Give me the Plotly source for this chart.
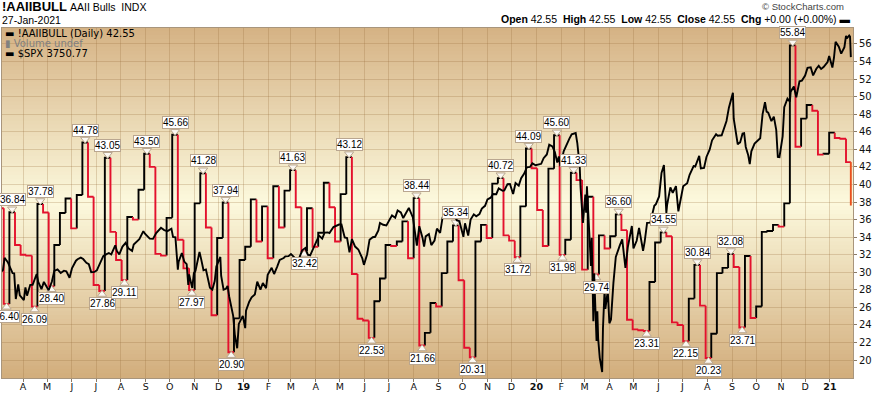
import plotly.graph_objects as go
import pandas as pd
from datetime import timedelta

# ---------------- data ----------------
AAII_FIRST_DATE = "2018-03-01"          # weekly (Thursday) readings
aaii_bulls = [
    # 2018
    37.30, 26.40, 36.84, 33.10, 32.00, 31.90, 26.09, 37.78, 36.80, 28.40,
    33.10, 36.75, 38.40, 35.00, 38.80, 44.78, 38.60, 28.55, 27.86, 43.05,
    34.60, 31.40, 29.11, 36.30, 36.00, 39.40, 43.50, 42.00, 32.10, 31.90,
    36.20, 45.66, 33.70, 30.45, 27.97, 37.85, 41.28, 35.10, 25.10, 33.90,
    37.94, 20.90, 24.75, 31.40,
    # 2019
    32.90, 38.30, 33.50, 37.50, 31.60, 39.80, 35.10, 39.30, 41.63, 37.40,
    32.42, 37.30, 32.90, 34.50, 40.20, 37.40, 33.50, 38.90, 43.12, 29.80,
    24.70, 24.50, 22.53, 26.70, 29.30, 33.10, 33.00, 33.50, 35.80, 31.60,
    38.44, 21.66, 23.10, 26.50, 26.10, 29.90, 33.50, 35.34, 29.10, 21.40,
    20.31, 33.50, 35.40, 33.90, 40.10, 40.72, 34.20, 33.60, 31.72, 37.50,
    44.09, 41.84,
    # 2020
    37.10, 33.00, 41.80, 45.60, 31.98, 33.70, 41.33, 40.50, 30.30, 38.60,
    29.74, 34.20, 32.70, 34.10, 36.60, 34.80, 24.60, 23.50, 23.40, 23.31,
    28.90, 33.40, 34.55, 34.10, 24.30, 24.00, 22.15, 27.00, 30.84, 26.20,
    20.23, 23.00, 29.90, 30.50, 32.08, 30.60, 23.71, 31.85, 24.80, 26.10,
    34.60, 34.70, 35.40, 35.20, 37.85, 55.84, 44.30, 47.50, 49.05, 48.40,
    43.40, 43.50, 45.90,
    # 2021
    45.30, 45.20, 42.55,
]
aaii_final_date = "2021-01-27"
aaii_final_value = 37.60

peak_labels = [36.84, 37.78, 44.78, 43.05, 43.50, 45.66, 41.28, 37.94, 41.63,
               43.12, 38.44, 35.34, 40.72, 44.09, 45.60, 41.33, 36.60, 34.55,
               30.84, 32.08, 55.84]
trough_labels = [26.40, 26.09, 28.40, 27.86, 29.11, 27.97, 20.90, 32.42, 22.53,
                 21.66, 20.31, 31.72, 31.98, 29.74, 23.31, 22.15, 20.23, 23.71]

spx_dates = [
    "2018-03-01", "2018-03-05", "2018-03-07", "2018-03-09", "2018-03-13", "2018-03-15", "2018-03-19", "2018-03-21",
    "2018-03-23", "2018-03-26", "2018-03-28", "2018-04-02", "2018-04-04", "2018-04-06", "2018-04-10", "2018-04-13",
    "2018-04-18", "2018-04-20", "2018-04-24", "2018-04-27", "2018-05-03", "2018-05-07", "2018-05-10", "2018-05-14",
    "2018-05-18", "2018-05-22", "2018-05-25", "2018-05-29", "2018-06-01", "2018-06-06", "2018-06-08", "2018-06-12",
    "2018-06-15", "2018-06-19", "2018-06-22", "2018-06-25", "2018-06-29", "2018-07-02", "2018-07-06", "2018-07-10",
    "2018-07-13", "2018-07-17", "2018-07-20", "2018-07-25", "2018-07-27", "2018-07-30", "2018-08-03", "2018-08-07",
    "2018-08-10", "2018-08-15", "2018-08-17", "2018-08-21", "2018-08-24", "2018-08-29", "2018-08-31", "2018-09-06",
    "2018-09-10", "2018-09-14", "2018-09-20", "2018-09-24", "2018-09-28", "2018-10-03", "2018-10-05", "2018-10-08",
    "2018-10-10", "2018-10-11", "2018-10-12", "2018-10-16", "2018-10-19", "2018-10-22", "2018-10-24", "2018-10-25",
    "2018-10-29", "2018-10-31", "2018-11-02", "2018-11-07", "2018-11-09", "2018-11-12", "2018-11-15", "2018-11-20",
    "2018-11-23", "2018-11-26", "2018-11-28", "2018-11-30", "2018-12-03", "2018-12-04", "2018-12-07", "2018-12-10",
    "2018-12-12", "2018-12-14", "2018-12-17", "2018-12-19", "2018-12-21", "2018-12-24", "2018-12-26", "2018-12-28",
    "2018-12-31",
    "2019-01-03", "2019-01-04", "2019-01-08", "2019-01-11", "2019-01-15", "2019-01-18", "2019-01-22", "2019-01-25",
    "2019-01-29", "2019-01-31", "2019-02-05", "2019-02-08", "2019-02-12", "2019-02-15", "2019-02-20", "2019-02-22",
    "2019-02-26", "2019-03-01", "2019-03-05", "2019-03-08", "2019-03-12", "2019-03-15", "2019-03-19", "2019-03-22",
    "2019-03-25", "2019-03-29", "2019-04-02", "2019-04-05", "2019-04-09", "2019-04-12", "2019-04-16", "2019-04-18",
    "2019-04-23", "2019-04-26", "2019-04-30", "2019-05-03", "2019-05-07", "2019-05-10", "2019-05-13", "2019-05-16",
    "2019-05-20", "2019-05-24", "2019-05-29", "2019-05-31", "2019-06-04", "2019-06-07", "2019-06-11", "2019-06-14",
    "2019-06-18", "2019-06-20", "2019-06-24", "2019-06-28", "2019-07-02", "2019-07-05", "2019-07-09", "2019-07-12",
    "2019-07-16", "2019-07-19", "2019-07-23", "2019-07-26", "2019-07-31", "2019-08-02", "2019-08-05", "2019-08-08",
    "2019-08-12", "2019-08-14", "2019-08-16", "2019-08-20", "2019-08-23", "2019-08-27", "2019-08-30", "2019-09-03",
    "2019-09-06", "2019-09-10", "2019-09-13", "2019-09-17", "2019-09-20", "2019-09-24", "2019-09-27", "2019-10-02",
    "2019-10-04", "2019-10-08", "2019-10-11", "2019-10-15", "2019-10-18", "2019-10-22", "2019-10-25", "2019-10-29",
    "2019-11-01", "2019-11-05", "2019-11-08", "2019-11-12", "2019-11-15", "2019-11-20", "2019-11-22", "2019-11-26",
    "2019-11-29", "2019-12-03", "2019-12-06", "2019-12-10", "2019-12-13", "2019-12-17", "2019-12-20", "2019-12-24",
    "2019-12-27", "2019-12-31",
    "2020-01-03", "2020-01-07", "2020-01-10", "2020-01-14", "2020-01-17", "2020-01-21", "2020-01-24", "2020-01-27",
    "2020-01-29", "2020-01-31", "2020-02-04", "2020-02-07", "2020-02-11", "2020-02-14", "2020-02-19", "2020-02-21",
    "2020-02-24", "2020-02-25", "2020-02-27", "2020-02-28", "2020-03-02", "2020-03-03", "2020-03-04", "2020-03-06",
    "2020-03-09", "2020-03-10", "2020-03-11", "2020-03-12", "2020-03-13", "2020-03-16", "2020-03-17", "2020-03-18",
    "2020-03-20", "2020-03-23", "2020-03-24", "2020-03-26", "2020-03-27", "2020-03-30", "2020-04-01", "2020-04-03",
    "2020-04-06", "2020-04-09", "2020-04-14", "2020-04-17", "2020-04-21", "2020-04-24", "2020-04-29", "2020-05-01",
    "2020-05-05", "2020-05-08", "2020-05-13", "2020-05-15", "2020-05-18", "2020-05-22", "2020-05-27", "2020-05-29",
    "2020-06-02", "2020-06-05", "2020-06-08", "2020-06-11", "2020-06-12", "2020-06-16", "2020-06-19", "2020-06-23",
    "2020-06-26", "2020-06-30", "2020-07-02", "2020-07-07", "2020-07-10", "2020-07-15", "2020-07-17", "2020-07-22",
    "2020-07-24", "2020-07-28", "2020-07-31", "2020-08-04", "2020-08-07", "2020-08-12", "2020-08-14", "2020-08-19",
    "2020-08-21", "2020-08-25", "2020-08-28", "2020-09-02", "2020-09-03", "2020-09-04", "2020-09-08", "2020-09-10",
    "2020-09-11", "2020-09-14", "2020-09-16", "2020-09-18", "2020-09-21", "2020-09-23", "2020-09-25", "2020-09-29",
    "2020-10-02", "2020-10-06", "2020-10-09", "2020-10-12", "2020-10-14", "2020-10-16", "2020-10-20", "2020-10-23",
    "2020-10-26", "2020-10-28", "2020-10-30", "2020-11-03", "2020-11-05", "2020-11-09", "2020-11-12", "2020-11-13",
    "2020-11-17", "2020-11-19", "2020-11-20", "2020-11-24", "2020-11-27", "2020-12-01", "2020-12-04", "2020-12-08",
    "2020-12-11", "2020-12-15", "2020-12-18", "2020-12-21", "2020-12-24", "2020-12-29", "2020-12-31",
    "2021-01-04", "2021-01-06", "2021-01-08", "2021-01-12", "2021-01-15", "2021-01-19", "2021-01-21", "2021-01-22",
    "2021-01-25", "2021-01-26", "2021-01-27",
]
spx_close = [
    2678, 2720, 2727, 2786, 2765, 2748, 2712, 2711,
    2588, 2658, 2605, 2582, 2644, 2604, 2656, 2656,
    2708, 2670, 2635, 2670, 2630, 2672, 2723, 2730,
    2713, 2724, 2721, 2690, 2735, 2772, 2779, 2787,
    2780, 2762, 2755, 2717, 2718, 2726, 2760, 2794,
    2801, 2809, 2802, 2846, 2819, 2802, 2840, 2858,
    2833, 2819, 2850, 2862, 2875, 2914, 2902, 2878,
    2877, 2905, 2930, 2919, 2914, 2926, 2886, 2884,
    2786, 2729, 2767, 2809, 2768, 2756, 2656, 2706,
    2641, 2712, 2723, 2814, 2781, 2726, 2730, 2642,
    2633, 2674, 2744, 2760, 2790, 2700, 2633, 2637,
    2651, 2600, 2546, 2507, 2417, 2351, 2468, 2486,
    2507,
    2448, 2532, 2575, 2596, 2610, 2671, 2633, 2665,
    2640, 2704, 2738, 2708, 2745, 2776, 2785, 2793,
    2794, 2804, 2789, 2743, 2792, 2822, 2833, 2801,
    2798, 2834, 2867, 2893, 2878, 2907, 2908, 2905,
    2934, 2940, 2946, 2946, 2884, 2881, 2812, 2876,
    2840, 2826, 2783, 2752, 2803, 2873, 2885, 2887,
    2918, 2954, 2945, 2942, 2973, 2990, 2979, 3014,
    3004, 2977, 3005, 3026, 2980, 2932, 2844, 2938,
    2883, 2840, 2889, 2900, 2847, 2869, 2926, 2906,
    2979, 2979, 3007, 3005, 2992, 2966, 2962, 2887,
    2952, 2893, 2970, 2995, 2986, 2996, 3023, 3036,
    3067, 3075, 3093, 3092, 3120, 3108, 3110, 3140,
    3141, 3093, 3146, 3133, 3169, 3192, 3221, 3223,
    3240, 3231,
    3235, 3238, 3265, 3283, 3330, 3321, 3295, 3244,
    3273, 3226, 3298, 3328, 3358, 3380, 3386, 3338,
    3226, 3128, 2979, 2954, 3090, 3003, 3130, 2972,
    2747, 2882, 2741, 2481, 2711, 2386, 2529, 2398,
    2305, 2237, 2447, 2630, 2541, 2627, 2471, 2489,
    2664, 2790, 2846, 2875, 2737, 2837, 2939, 2831,
    2868, 2930, 2820, 2864, 2954, 2955, 3036, 3044,
    3081, 3194, 3232, 3002, 3041, 3125, 3098, 3131,
    3009, 3100, 3130, 3145, 3185, 3227, 3225, 3276,
    3216, 3218, 3271, 3306, 3351, 3380, 3373, 3375,
    3397, 3444, 3508, 3580, 3455, 3427, 3332, 3339,
    3341, 3383, 3385, 3319, 3281, 3237, 3298, 3335,
    3348, 3361, 3477, 3534, 3489, 3484, 3443, 3465,
    3401, 3271, 3270, 3370, 3510, 3551, 3537, 3585,
    3610, 3582, 3558, 3635, 3638, 3662, 3699, 3702,
    3663, 3695, 3709, 3694, 3703, 3727, 3756,
    3701, 3748, 3825, 3801, 3768, 3799, 3853, 3841,
    3855, 3850, 3751,
]

y_ticks = list(range(20, 57, 2))
month_starts = pd.date_range("2018-04-01", "2021-01-01", freq="MS")
month_letters = ["J", "F", "M", "A", "M", "J", "J", "A", "S", "O", "N", "D"]

# ---------------- layout constants ----------------
W, H = 874, 393
ML, MR, MT, MB = 2, 21, 28, 15
PW, PH = W - ML - MR, H - MT - MB
X_RANGE = ["2018-03-05 19:00", "2021-01-29 17:00"]
Y_RANGE = [17.96, 57.82]
SPX_RANGE = [2208, 3891]
RED = "#e3112d"
LAST = "#e8501e"
GRID = "rgba(150,108,58,0.26)"
FRAME = "#a8957c"
BOX_BORDER = "#b9a690"
PX_PER_UNIT = PH / (Y_RANGE[1] - Y_RANGE[0])


def px(xp):
    return (xp - ML) / PW


def py(yp):
    return (H - MB - yp) / PH


# ---------------- AAII step segments ----------------
dates = list(pd.date_range(AAII_FIRST_DATE, periods=len(aaii_bulls), freq="7D"))
dates.append(pd.Timestamp(aaii_final_date))
vals = list(aaii_bulls) + [aaii_final_value]
n = len(vals)

seg = {"red": ([], []), "black": ([], []), "last": ([], [])}
seg["red"][0].extend([dates[0], dates[1], None])
seg["red"][1].extend([vals[0], vals[0], None])
for i in range(1, n):
    if i == n - 1:
        key = "last"
        xs = [dates[i], dates[i], None]
        ys = [vals[i - 1], vals[i], None]
    else:
        key = "red" if vals[i] < vals[i - 1] else "black"
        xs = [dates[i], dates[i], dates[i + 1], None]
        ys = [vals[i - 1], vals[i], vals[i], None]
    seg[key][0].extend(xs)
    seg[key][1].extend(ys)

fig = go.Figure()

# background gradient (tan -> cream -> tan)
top, mid, bot = (213, 178, 132), (252, 249, 221), (210, 173, 124)
NB = 90
for k in range(NB):
    f = (k + 0.5) / NB  # 0 = top
    if f < 0.5:
        t = f / 0.5
        c = [round(top[j] + (mid[j] - top[j]) * t) for j in range(3)]
    else:
        t = (f - 0.5) / 0.5
        c = [round(mid[j] + (bot[j] - mid[j]) * t) for j in range(3)]
    fig.add_shape(type="rect", xref="paper", yref="paper", x0=0, x1=1,
                  y0=1 - (k + 1) / NB, y1=1 - k / NB + 0.002,
                  fillcolor=f"rgb({c[0]},{c[1]},{c[2]})", line_width=0, layer="below")

for key, color in (("black", "#000000"), ("red", RED), ("last", LAST)):
    fig.add_trace(go.Scatter(x=seg[key][0], y=seg[key][1], mode="lines",
                             line=dict(color=color, width=1.9), hoverinfo="skip"))

# label pointers (triangles) and label boxes
off = 3.2 / PX_PER_UNIT
tri_x, tri_y, tri_s = [], [], []
annotations = []
lab_font = dict(family="Liberation Sans", size=10, color="#000")
for v in peak_labels:
    i = vals.index(v)
    xc = dates[i] + timedelta(days=3.5)
    tri_x.append(xc); tri_y.append(v + off); tri_s.append("triangle-down")
    annotations.append(dict(x=xc, y=v, xref="x", yref="y", text=f"{v:.2f}",
                            showarrow=False, yanchor="bottom", yshift=6,
                            bgcolor="#ffffff", bordercolor=BOX_BORDER, borderwidth=1, borderpad=0,
                            font=lab_font))
for v in trough_labels:
    i = vals.index(v)
    xc = dates[i] + timedelta(days=3.5)
    tri_x.append(xc); tri_y.append(v - off); tri_s.append("triangle-up")
    annotations.append(dict(x=xc, y=v, xref="x", yref="y", text=f"{v:.2f}",
                            showarrow=False, yanchor="top", yshift=-6,
                            bgcolor="#ffffff", bordercolor=BOX_BORDER, borderwidth=1, borderpad=0,
                            font=lab_font))
fig.add_trace(go.Scatter(x=tri_x, y=tri_y, mode="markers", hoverinfo="skip",
                         marker=dict(symbol=tri_s, size=8, color="#fbf8f2",
                                     line=dict(color=BOX_BORDER, width=1))))

# SPX overlay
fig.add_trace(go.Scatter(x=pd.to_datetime(spx_dates), y=spx_close, yaxis="y2", mode="lines",
                         line=dict(color="#000000", width=1.9), hoverinfo="skip"))

# ---------------- text ----------------
hdr = "Liberation Sans"
leg_font = dict(family="DejaVu Sans", size=10, color="#000")
annotations += [
    dict(x=px(0), y=py(7), xref="paper", yref="paper", xanchor="left", yanchor="middle",
         text="<b>!AAIIBULL</b>", showarrow=False, font=dict(family=hdr, size=13, color="#000")),
    dict(x=px(68), y=py(7), xref="paper", yref="paper", xanchor="left", yanchor="middle",
         text="AAII Bulls  INDX", showarrow=False, font=dict(family=hdr, size=10.5, color="#000")),
    dict(x=px(0), y=py(20), xref="paper", yref="paper", xanchor="left", yanchor="middle",
         text="27-Jan-2021", showarrow=False, font=dict(family=hdr, size=10.5, color="#000")),
    dict(x=px(846), y=py(6.5), xref="paper", yref="paper", xanchor="right", yanchor="middle",
         text="© StockCharts.com", showarrow=False, font=dict(family=hdr, size=9.5, color="#444")),
    dict(x=px(853), y=py(18.5), xref="paper", yref="paper", xanchor="right", yanchor="middle",
         text="<b>Open</b> 42.55  <b>High</b> 42.55  <b>Low</b> 42.55  <b>Close</b> 42.55  "
              "<b>Chg</b> +0.00 (+0.00%) ▬",
         showarrow=False, font=dict(family=hdr, size=10.5, color="#000")),
    dict(x=px(3), y=py(33.5), xref="paper", yref="paper", xanchor="left", yanchor="middle",
         showarrow=False, text="▬ !AAIIBULL (Daily) 42.55", font=leg_font),
    dict(x=px(3), y=py(43.5), xref="paper", yref="paper", xanchor="left", yanchor="middle",
         showarrow=False, text="▮ Volume undef",
         font=dict(family="DejaVu Sans", size=10, color="#808080")),
    dict(x=px(3), y=py(53.5), xref="paper", yref="paper", xanchor="left", yanchor="middle",
         showarrow=False, text="▬ $SPX 3750.77", font=leg_font),
]

month_text = []
for d in month_starts:
    if d.month == 1:
        month_text.append(f"<b>{d.year % 100:02d}</b>")
    else:
        month_text.append(month_letters[d.month - 1])

fig.update_layout(
    width=W, height=H, autosize=False,
    margin=dict(l=ML, r=MR, t=MT, b=MB, autoexpand=False),
    paper_bgcolor="#ffffff", plot_bgcolor="rgba(0,0,0,0)",
    showlegend=False, annotations=annotations,
    xaxis=dict(type="date", range=X_RANGE, tickvals=list(month_starts), ticktext=month_text,
               showgrid=True, gridcolor=GRID, gridwidth=1, ticks="outside", ticklen=3,
               tickcolor="#8a7a66", showline=True, linecolor=FRAME, linewidth=1, mirror=True,
               zeroline=False, tickangle=0, automargin=False, ticklabelstandoff=-3,
               tickfont=dict(family="DejaVu Sans", size=9.5, color="#111")),
    yaxis=dict(range=Y_RANGE, side="right", tickvals=y_ticks, showgrid=True, gridcolor=GRID,
               gridwidth=1, ticks="outside", ticklen=3, tickcolor="#8a7a66", showline=True,
               linecolor=FRAME, linewidth=1, mirror=True, zeroline=False, automargin=False,
               tickfont=dict(family="DejaVu Sans", size=10, color="#111")),
    yaxis2=dict(range=SPX_RANGE, overlaying="y", side="right", visible=False, showgrid=False),
)

fig.write_html("out.html", config={"displayModeBar": False},
               post_script="document.body.style.margin='0px';document.body.style.overflow='hidden';")
